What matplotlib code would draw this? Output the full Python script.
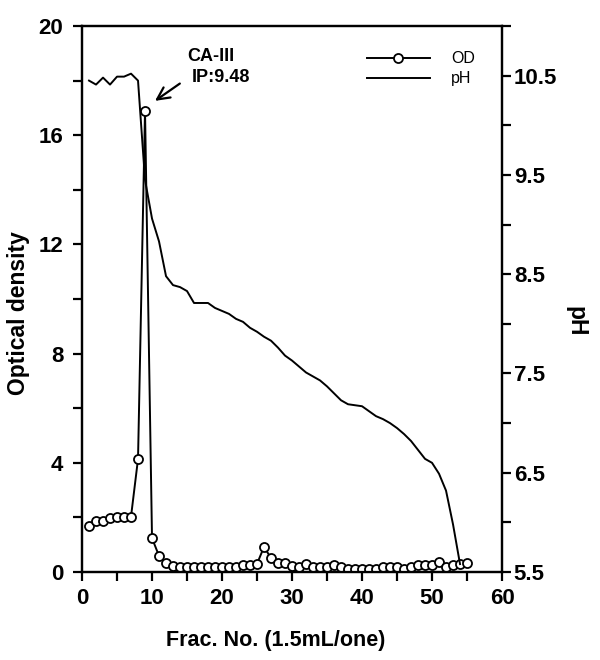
import matplotlib
matplotlib.use("Agg")
import matplotlib.pyplot as plt
from matplotlib.ticker import MultipleLocator

plt.rcParams["font.family"] = ["Liberation Sans", "DejaVu Sans"]

# ── data ────────────────────────────────────────────────────
frac_od = list(range(1, 56))
od = [1.70, 1.88, 1.88, 1.97, 2.03, 2.03, 2.03, 4.14, 16.9, 1.24,
      0.59, 0.32, 0.23, 0.20, 0.20, 0.20, 0.20, 0.20, 0.20, 0.20,
      0.20, 0.20, 0.24, 0.24, 0.30, 0.92, 0.51, 0.32, 0.32, 0.23,
      0.20, 0.30, 0.20, 0.20, 0.20, 0.25, 0.18, 0.12, 0.10, 0.10,
      0.12, 0.12, 0.20, 0.20, 0.20, 0.12, 0.20, 0.25, 0.25, 0.25,
      0.38, 0.20, 0.25, 0.30, 0.32]

frac_ph = list(range(1, 55))
ph = [10.45, 10.41, 10.48, 10.41, 10.49, 10.49, 10.52, 10.45, 9.45, 9.06,
      8.83, 8.48, 8.39, 8.37, 8.33, 8.21, 8.21, 8.21, 8.16, 8.13,
      8.10, 8.05, 8.02, 7.96, 7.92, 7.87, 7.83, 7.76, 7.68, 7.63,
      7.57, 7.51, 7.47, 7.43, 7.37, 7.30, 7.23, 7.19, 7.18, 7.17,
      7.12, 7.07, 7.04, 7.00, 6.95, 6.89, 6.82, 6.73, 6.64, 6.60,
      6.49, 6.32, 5.98, 5.58]

ph_ticks = [5.5, 6.5, 7.5, 8.5, 9.5, 10.5]
ph_minor = [6, 7, 8, 9, 10, 11]

fig = plt.figure(figsize=(6, 6.6), dpi=100)
ax = fig.add_axes([0.1367, 0.1333, 0.70, 0.8273])
ax2 = ax.twinx()

l_od, = ax.plot(frac_od, od, color="black", lw=1.4, marker="o", ms=6.5,
                mfc="white", mec="black", mew=1.3, label="OD", zorder=3)
l_ph, = ax2.plot(frac_ph, ph, color="black", lw=1.4, label="pH")

ax.set_xlim(0, 60)
ax.set_ylim(0, 20)
ax2.set_ylim(5.5, 11)

ax.xaxis.set_major_locator(MultipleLocator(10))
ax.xaxis.set_minor_locator(MultipleLocator(5))
ax.yaxis.set_major_locator(MultipleLocator(4))
ax.yaxis.set_minor_locator(MultipleLocator(2))
ax2.set_yticks(ph_ticks)
ax2.set_yticks(ph_minor, minor=True)
ax2.set_yticklabels([str(t) for t in ph_ticks])

for a in (ax, ax2):
    for s in a.spines.values():
        s.set_linewidth(1.6)
    a.tick_params(which="both", direction="out", width=1.6, length=6.5,
                  labelsize=16)
    for lab in a.get_xticklabels() + a.get_yticklabels():
        lab.set_fontweight("bold")
ax.tick_params(axis="y", pad=7)
ax.tick_params(axis="x", pad=5)
ax2.tick_params(axis="y", pad=2)

ax.set_xlabel("Frac. No. (1.5mL/one)", fontsize=15.5, fontweight="bold", va="center")
ax.xaxis.set_label_coords(0.462, -0.1245)
ax.set_ylabel("Optical density", fontsize=16.5, fontweight="bold", va="center")
ax.yaxis.set_label_coords(-0.152, 0.474)
ax2.set_ylabel("pH", fontsize=16.5, fontweight="bold", rotation=-90, va="center")
ax2.yaxis.set_label_coords(1.176, 0.46)

ax.annotate("", xy=(10.1, 17.2), xytext=(14.3, 17.95),
            arrowprops=dict(arrowstyle="->", lw=1.6, color="black",
                            mutation_scale=22))
ax.text(15.0, 18.9, "CA-III", fontsize=13, fontweight="bold", va="center")
ax.text(15.7, 18.1, "IP:9.48", fontsize=13, fontweight="bold", va="center")

leg = ax.legend([l_od, l_ph], ["OD", "pH"], loc="upper right",
                bbox_to_anchor=(0.97, 0.98), frameon=False, fontsize=11.5,
                handlelength=4.0, handletextpad=1.3, labelspacing=0.3)

plt.savefig("out.png", dpi=100, facecolor="white")
